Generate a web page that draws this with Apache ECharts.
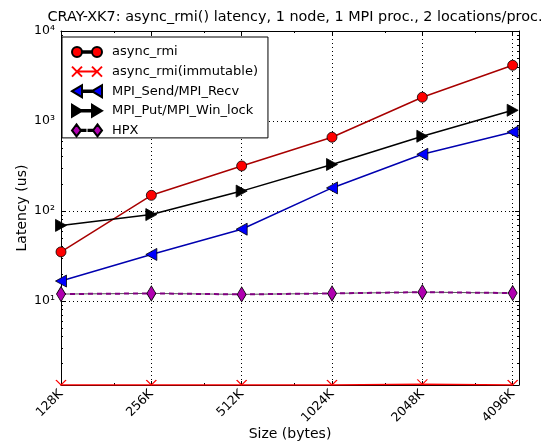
<!DOCTYPE html>
<html>
<head>
<meta charset="utf-8">
<script src="https://cdn.jsdelivr.net/npm/echarts@6/dist/echarts.min.js"></script>
<style>
  html, body { margin: 0; padding: 0; background: #fff; }
  #chart { width: 543px; height: 446px; }
</style>
</head>
<body>
<div id="chart"></div>
<script>
// Message sizes in KiB (x axis, log base 2)
const sizesK = [128, 256, 512, 1024, 2048, 4096];

// Latencies in microseconds
const asyncRmi          = [35, 149, 316, 659, 1834, 4157];
const asyncRmiImmutable = [1.16, 1.16, 1.16, 1.16, 1.18, 1.16];
const mpiSendRecv       = [16.6, 32.8, 62.6, 180, 426, 755];
const mpiPutWinLock     = [69, 91, 166, 328, 676, 1315];
const hpx               = [11.9, 12.1, 11.8, 12.1, 12.5, 12.2];

// Axis ticks
const yMajorTicks = [10, 100, 1000, 10000];
const xMinorTicks = [192, 384, 768, 1536, 3072];

const seriesNames = ['async_rmi', 'async_rmi(immutable)', 'MPI_Send/MPI_Recv', 'MPI_Put/MPI_Win_lock', 'HPX'];
const titleText = 'CRAY-XK7: async_rmi() latency, 1 node, 1 MPI proc., 2 locations/proc.';

const FONT = 'DejaVu Sans';
const Y_MIN = 1.16, Y_MAX = 10000;
const X_MIN = 128, X_MAX = 4300;
const pairs = vals => sizesK.map((s, i) => [s, vals[i]]);

// 2..9 times each decade, for the minor ticks of the log axis
const yMinorTicks = [];
[1, 10, 100, 1000].forEach(d => { for (let k = 2; k <= 9; k++) yMinorTicks.push(k * d); });

const supDigits = { '0': '\u2070', '1': '\u00b9', '2': '\u00b2', '3': '\u00b3', '4': '\u2074', '5': '\u2075', '6': '\u2076', '7': '\u2077', '8': '\u2078', '9': '\u2079' };
function decadeLabel(v) {
  const e = Math.log10(v);
  if (Math.abs(e - Math.round(e)) > 1e-6) return '';
  return '10' + String(Math.round(e)).split('').map(d => supDigits[d]).join('');
}
function sizeLabel(v) {
  const e = Math.log2(v);
  if (Math.abs(e - Math.round(e)) > 1e-6) return '';
  return Math.round(v) + 'K';
}

// Legend icons: two markers joined by a short line, 30 px wide
const iconCircles = 'path://M0 6A5 5 0 1 0 10 6A5 5 0 1 0 0 6Z M20 6A5 5 0 1 0 30 6A5 5 0 1 0 20 6Z M10 5.3L20 5.3L20 6.7L10 6.7Z';
const iconCrosses = 'path://M0 1L10 11M0 11L10 1M20 1L30 11M20 11L30 1M5 6L25 6';
const iconLeft    = 'path://M0 6L10 0L10 12Z M20 6L30 0L30 12Z M10 5.3L20 5.3L20 6.7L10 6.7Z';
const iconRight   = 'path://M10 6L0 0L0 12Z M30 6L20 0L20 12Z M10 5.3L20 5.3L20 6.7L10 6.7Z';
const iconDiamond = 'path://M4.5 0L9 6L4.5 12L0 6Z M25.5 0L30 6L25.5 12L21 6Z M10 5.4L13.5 5.4L13.5 6.6L10 6.6Z M16.5 5.4L20 5.4L20 6.6L16.5 6.6Z';

const tickLine = { color: '#000', width: 1 };
const gridLine = { show: true, lineStyle: { color: '#000', type: [1, 3], width: 1 } };
const nameFont = { fontFamily: FONT, fontSize: 14, color: '#000' };
const tickFont = { fontFamily: FONT, fontSize: 12.5, color: '#000' };

// x axes: labelled bottom axis, mirrored top axis, and two minor-tick axes
const xBase = { type: 'log', logBase: 2, min: X_MIN, max: X_MAX, interval: 1 };
const xAxes = [
  Object.assign({}, xBase, {
    position: 'bottom',
    axisLine: { show: true, lineStyle: { color: '#000', width: 1 } },
    axisTick: { show: true, inside: true, length: 4, lineStyle: tickLine },
    axisLabel: Object.assign({ show: true, rotate: 45, margin: 7, formatter: sizeLabel }, tickFont),
    splitLine: gridLine,
    name: 'Size (bytes)', nameLocation: 'middle', nameGap: 42, nameMoveOverlap: false, nameTextStyle: nameFont
  }),
  Object.assign({}, xBase, {
    position: 'top',
    axisLine: { show: true, lineStyle: { color: '#000', width: 1 } },
    axisTick: { show: true, inside: true, length: 4, lineStyle: tickLine },
    axisLabel: { show: false }, splitLine: { show: false }
  }),
  Object.assign({}, xBase, {
    position: 'bottom',
    axisLine: { show: false },
    axisTick: { show: true, inside: true, length: 2, lineStyle: tickLine, customValues: xMinorTicks },
    axisLabel: { show: false }, splitLine: { show: false }
  }),
  Object.assign({}, xBase, {
    position: 'top',
    axisLine: { show: false },
    axisTick: { show: true, inside: true, length: 2, lineStyle: tickLine, customValues: xMinorTicks },
    axisLabel: { show: false }, splitLine: { show: false }
  })
];

// y axes: labelled left axis, mirrored right axis, and two minor-tick axes
const yBase = { type: 'log', logBase: 10, min: Y_MIN, max: Y_MAX };
const yAxes = [
  Object.assign({}, yBase, {
    position: 'left',
    axisLine: { show: true, lineStyle: { color: '#000', width: 1 } },
    axisTick: { show: true, inside: true, length: 4, lineStyle: tickLine, customValues: yMajorTicks },
    axisLabel: Object.assign({ show: true, margin: 6, formatter: decadeLabel, customValues: yMajorTicks }, tickFont),
    splitLine: gridLine,
    name: 'Latency (us)', nameLocation: 'middle', nameGap: 32, nameRotate: 90, nameMoveOverlap: false, nameTextStyle: nameFont
  }),
  Object.assign({}, yBase, {
    position: 'right',
    axisLine: { show: true, lineStyle: { color: '#000', width: 1 } },
    axisTick: { show: true, inside: true, length: 4, lineStyle: tickLine, customValues: yMajorTicks },
    axisLabel: { show: false }, splitLine: { show: false }
  }),
  Object.assign({}, yBase, {
    position: 'left',
    axisLine: { show: false },
    axisTick: { show: true, inside: true, length: 2, lineStyle: tickLine, customValues: yMinorTicks },
    axisLabel: { show: false }, splitLine: { show: false }
  }),
  Object.assign({}, yBase, {
    position: 'right',
    axisLine: { show: false },
    axisTick: { show: true, inside: true, length: 2, lineStyle: tickLine, customValues: yMinorTicks },
    axisLabel: { show: false }, splitLine: { show: false }
  })
];

const chart = echarts.init(document.getElementById('chart'), null, { renderer: 'canvas' });

chart.setOption({
  animation: false,
  backgroundColor: '#fff',
  title: {
    text: titleText,
    left: 290, top: 5, textAlign: 'center',
    textStyle: { fontFamily: FONT, fontSize: 14.4, fontWeight: 'normal', color: '#000' }
  },
  grid: { left: 61, right: 24, top: 31, bottom: 61, containLabel: false, outerBoundsMode: 'none' },
  xAxis: xAxes,
  yAxis: yAxes,
  legend: {
    left: 62, top: 37,
    orient: 'vertical',
    padding: [8, 10, 0.5, 9],
    itemWidth: 30, itemHeight: 12, itemGap: 5.6,
    backgroundColor: '#fff',
    borderColor: '#000', borderWidth: 1, borderRadius: 0,
    selectedMode: false,
    textStyle: { fontFamily: FONT, fontSize: 13, color: '#000', lineHeight: 14, padding: [0, 0, 0, 5] },
    data: [
      { name: seriesNames[0], icon: iconCircles },
      { name: seriesNames[1], icon: iconCrosses },
      { name: seriesNames[2], icon: iconLeft },
      { name: seriesNames[3], icon: iconRight },
      { name: seriesNames[4], icon: iconDiamond }
    ]
  },
  series: [
    {
      name: seriesNames[0], type: 'line', data: pairs(asyncRmi),
      symbol: 'circle', symbolSize: 10,
      itemStyle: { color: '#ff0000', borderColor: '#000', borderWidth: 0.8 },
      lineStyle: { color: '#a80000', width: 1.5 }, z: 5
    },
    {
      name: seriesNames[1], type: 'line', data: pairs(asyncRmiImmutable),
      symbol: 'path://M0 0L5 5L10 0', symbolSize: [10, 5], symbolOffset: [0, -2.5],
      itemStyle: { color: 'rgba(0,0,0,0)', borderColor: '#ff0000', borderWidth: 1 },
      lineStyle: { color: '#ff0000', width: 1.5 }, z: 4
    },
    {
      name: seriesNames[2], type: 'line', data: pairs(mpiSendRecv),
      symbol: 'triangle', symbolSize: [12, 11], symbolRotate: 90,
      itemStyle: { color: '#0000ff', borderColor: '#000', borderWidth: 0.8 },
      lineStyle: { color: '#0000b0', width: 1.5 }, z: 5
    },
    {
      name: seriesNames[3], type: 'line', data: pairs(mpiPutWinLock),
      symbol: 'triangle', symbolSize: [12, 11], symbolRotate: -90,
      itemStyle: { color: '#000', borderColor: '#000', borderWidth: 0.8 },
      lineStyle: { color: '#000', width: 1.5 }, z: 5
    },
    {
      name: 'HPX base', type: 'line', data: pairs(hpx),
      symbol: 'none', silent: true,
      lineStyle: { color: '#555', width: 1 }, z: 3
    },
    {
      name: seriesNames[4], type: 'line', data: pairs(hpx),
      symbol: 'diamond', symbolSize: [9, 15],
      itemStyle: { color: '#b000b0', borderColor: '#000', borderWidth: 0.8 },
      lineStyle: { color: '#800080', width: 2, type: [5, 4] }, z: 5
    }
  ]
});
</script>
</body>
</html>
